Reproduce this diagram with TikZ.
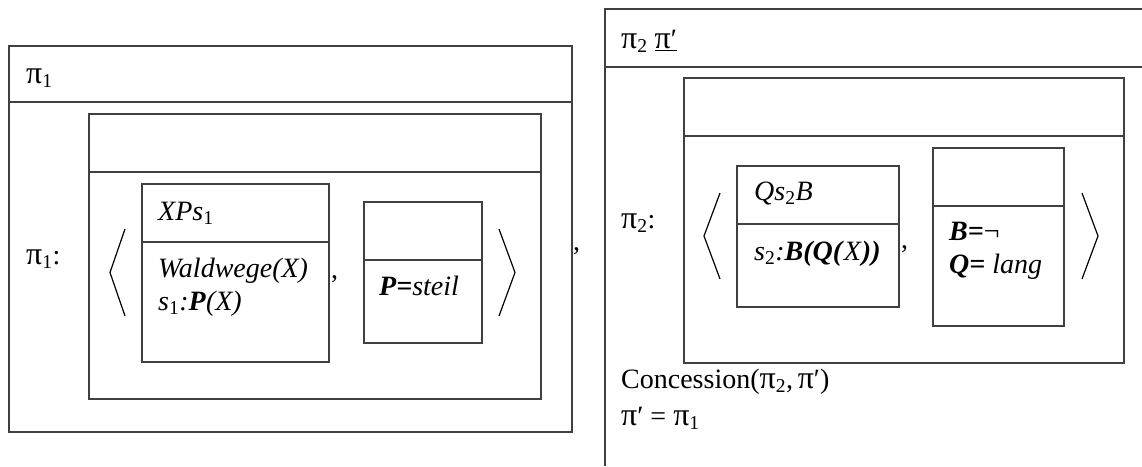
\documentclass[tikz,border=0pt]{standalone}
\usepackage{fontspec}
\setmainfont{Liberation Serif}
\newcommand{\sbs}[1]{\textsubscript{#1}}
\newcommand{\bfit}[1]{\textbf{\textit{#1}}}
\newcommand{\PI}{{\fontsize{32}{33}\selectfont π}}
\begin{document}
\begin{tikzpicture}[x=1pt,y=-1pt,
  box/.style={draw=black!75,line width=1.2pt},
  brk/.style={draw=black,line width=1.2pt},
  lbl/.style={anchor=base west,inner sep=0pt,font=\fontsize{28}{33}\selectfont}]
\useasboundingbox (0,0) rectangle (1142,466);
% ---------- left DRS ----------
\draw[box] (9,46) rectangle (572,432);
\draw[box] (9,102) -- (572,102);
\node[lbl] (h1) at (26,83) {\PI\sbs{1}};
\node[lbl] (l1) at (26,264) {\PI\sbs{1}:};
\draw[box] (89,114) rectangle (541,399);
\draw[box] (89,172) -- (541,172);
\coordinate (lb1t) at (125,229); \coordinate (lb1m) at (110,272.5); \coordinate (lb1b) at (125,316);
\draw[brk] (lb1t) -- (lb1m) -- (lb1b);
\draw[box] (142,184) rectangle (329,362);
\draw[box] (142,242) -- (329,242);
\node[lbl] (a1) at (158,220) {\textit{XPs}\sbs{1}};
\node[lbl] (a2) at (158,277) {\textit{Waldwege(X)}};
\node[lbl] (a3) at (158,310) {\textit{s}\sbs{1}\textit{:}\bfit{P}\textit{(X)}};
\node[lbl] (c1) at (331,278) {,};
\draw[box] (364,202) rectangle (482,343);
\draw[box] (364,260) -- (482,260);
\node[lbl] (b1) at (379,295) {\bfit{P=}\textit{steil}};
\coordinate (rb1t) at (499,229); \coordinate (rb1m) at (515,272.5); \coordinate (rb1b) at (499,316);
\draw[brk] (rb1t) -- (rb1m) -- (rb1b);
\node[lbl] (c0) at (573,250) {,};
% ---------- right DRS ----------
\draw[box] (1142,9) -- (605,9) -- (605,466);
\draw[box] (605,67) -- (1142,67);
\node[lbl] (h2) at (621,48) {\PI\sbs{2} \underline{\PI′}};
\node[lbl] (l2) at (621,228) {\PI\sbs{2}:};
\draw[box] (684,78) rectangle (1124,363);
\draw[box] (684,136) -- (1124,136);
\coordinate (lb2t) at (720,193); \coordinate (lb2m) at (704,236); \coordinate (lb2b) at (720,279);
\draw[brk] (lb2t) -- (lb2m) -- (lb2b);
\draw[box] (737,166) rectangle (899,307);
\draw[box] (737,224) -- (899,224);
\node[lbl] (q1) at (754,200) {\textit{Qs}\sbs{2}\textit{B}};
\node[lbl] (q2) at (754,260) {\textit{s}\sbs{2}\textit{:}\bfit{B(Q(}\textit{X}\bfit{))}};
\node[lbl] (c2) at (901,248) {,};
\draw[box] (933,148) rectangle (1064,326);
\draw[box] (933,206) -- (1064,206);
\node[lbl] (d1) at (949,240) {\bfit{B=}¬};
\node[lbl] (d2) at (949,273) {\bfit{Q=} \textit{lang}};
\coordinate (rb2t) at (1082,193); \coordinate (rb2m) at (1098,236); \coordinate (rb2b) at (1082,279);
\draw[brk] (rb2t) -- (rb2m) -- (rb2b);
\node[lbl] (k1) at (621,388) {Concession(\PI\sbs{2},\,\PI′)};
\node[lbl] (k2) at (621,425) {\PI′ = \PI\sbs{1}};
\end{tikzpicture}
\end{document}
